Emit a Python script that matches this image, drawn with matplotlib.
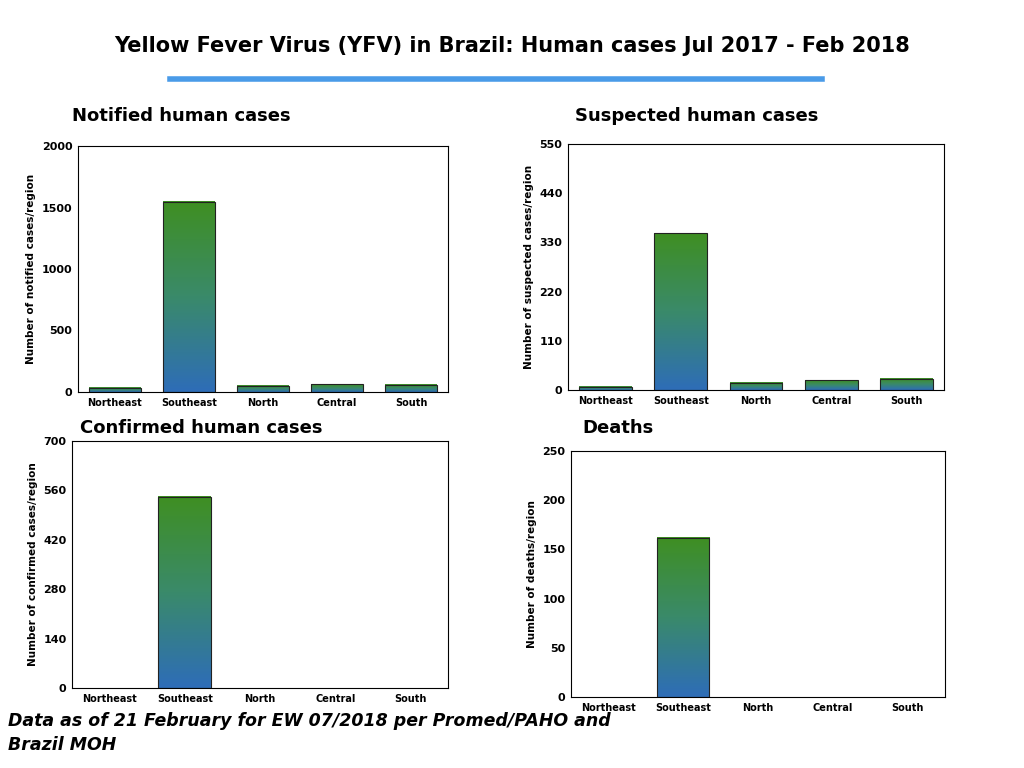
import matplotlib
matplotlib.use("Agg")
import matplotlib.pyplot as plt
import numpy as np
from matplotlib.colors import LinearSegmentedColormap

regions = ["Northeast", "Southeast", "North", "Central", "South"]
notified = [35, 1545, 50, 65, 60]
suspected = [7, 350, 16, 22, 25]
confirmed = [0, 542, 0, 0, 0]
deaths = [0, 162, 0, 0, 0]

cmap = LinearSegmentedColormap.from_list("g", ["#2e6db8", "#3a8a6a", "#3f8f22"])
W, H = 1024, 768
fig = plt.figure(figsize=(W/100, H/100), dpi=100)

def px(l, t, r, b):
    return [l/W, 1-b/H, (r-l)/W, (b-t)/H]

panels = [
    (px(78, 146, 448, 392), notified, [0, 500, 1000, 1500, 2000], "Number of notified cases/region", "Notified human cases", (72, 116)),
    (px(568, 144, 944, 390), suspected, [0, 110, 220, 330, 440, 550], "Number of suspected cases/region", "Suspected human cases", (575, 116)),
    (px(72, 441, 448, 688), confirmed, [0, 140, 280, 420, 560, 700], "Number of confirmed cases/region", "Confirmed human cases", (80, 428)),
    (px(571, 451, 945, 697), deaths, [0, 50, 100, 150, 200, 250], "Number of deaths/region", "Deaths", (582, 428)),
]
grad = np.linspace(0, 1, 256).reshape(-1, 1)
for rect, vals, ticks, ylab, sub, (sx, sy) in panels:
    ax = fig.add_axes(rect)
    x = np.arange(len(regions))
    w = 0.7
    ax.set_xlim(-0.5, len(regions)-0.5)
    ax.set_ylim(0, ticks[-1])
    for xi, v in zip(x, vals):
        if v <= 0:
            continue
        im = ax.imshow(grad, cmap=cmap, origin="lower", aspect="auto",
                       extent=[xi-w/2, xi+w/2, 0, v], zorder=2)
        ax.add_patch(plt.Rectangle((xi-w/2, 0), w, v, fill=False, ec="#222222", lw=0.8, zorder=3))
    ax.set_xticks(x)
    ax.set_xticklabels(regions, fontsize=7, fontweight="bold")
    ax.set_yticks(ticks)
    ax.set_yticklabels([str(t) for t in ticks], fontsize=8, fontweight="bold")
    ax.tick_params(length=0, pad=4)
    ax.set_ylabel(ylab, fontsize=7.5, fontweight="bold")
    fig.text(sx/W, 1-sy/H, sub, fontsize=13, fontweight="bold", va="center", ha="left")

fig.text(0.5, 1-46/H, "Yellow Fever Virus (YFV) in Brazil: Human cases Jul 2017 - Feb 2018",
         fontsize=15, fontweight="bold", ha="center", va="center")
fig.add_artist(plt.Line2D([170/W, 822/W], [1-79/H, 1-79/H], color="#4a9be8", lw=4))
fig.text(8/W, 1-733/H, "Data as of 21 February for EW 07/2018 per Promed/PAHO and\nBrazil MOH",
         fontsize=12.5, fontweight="bold", style="italic", ha="left", va="center", linespacing=1.4)
fig.savefig("out.png", dpi=100)
